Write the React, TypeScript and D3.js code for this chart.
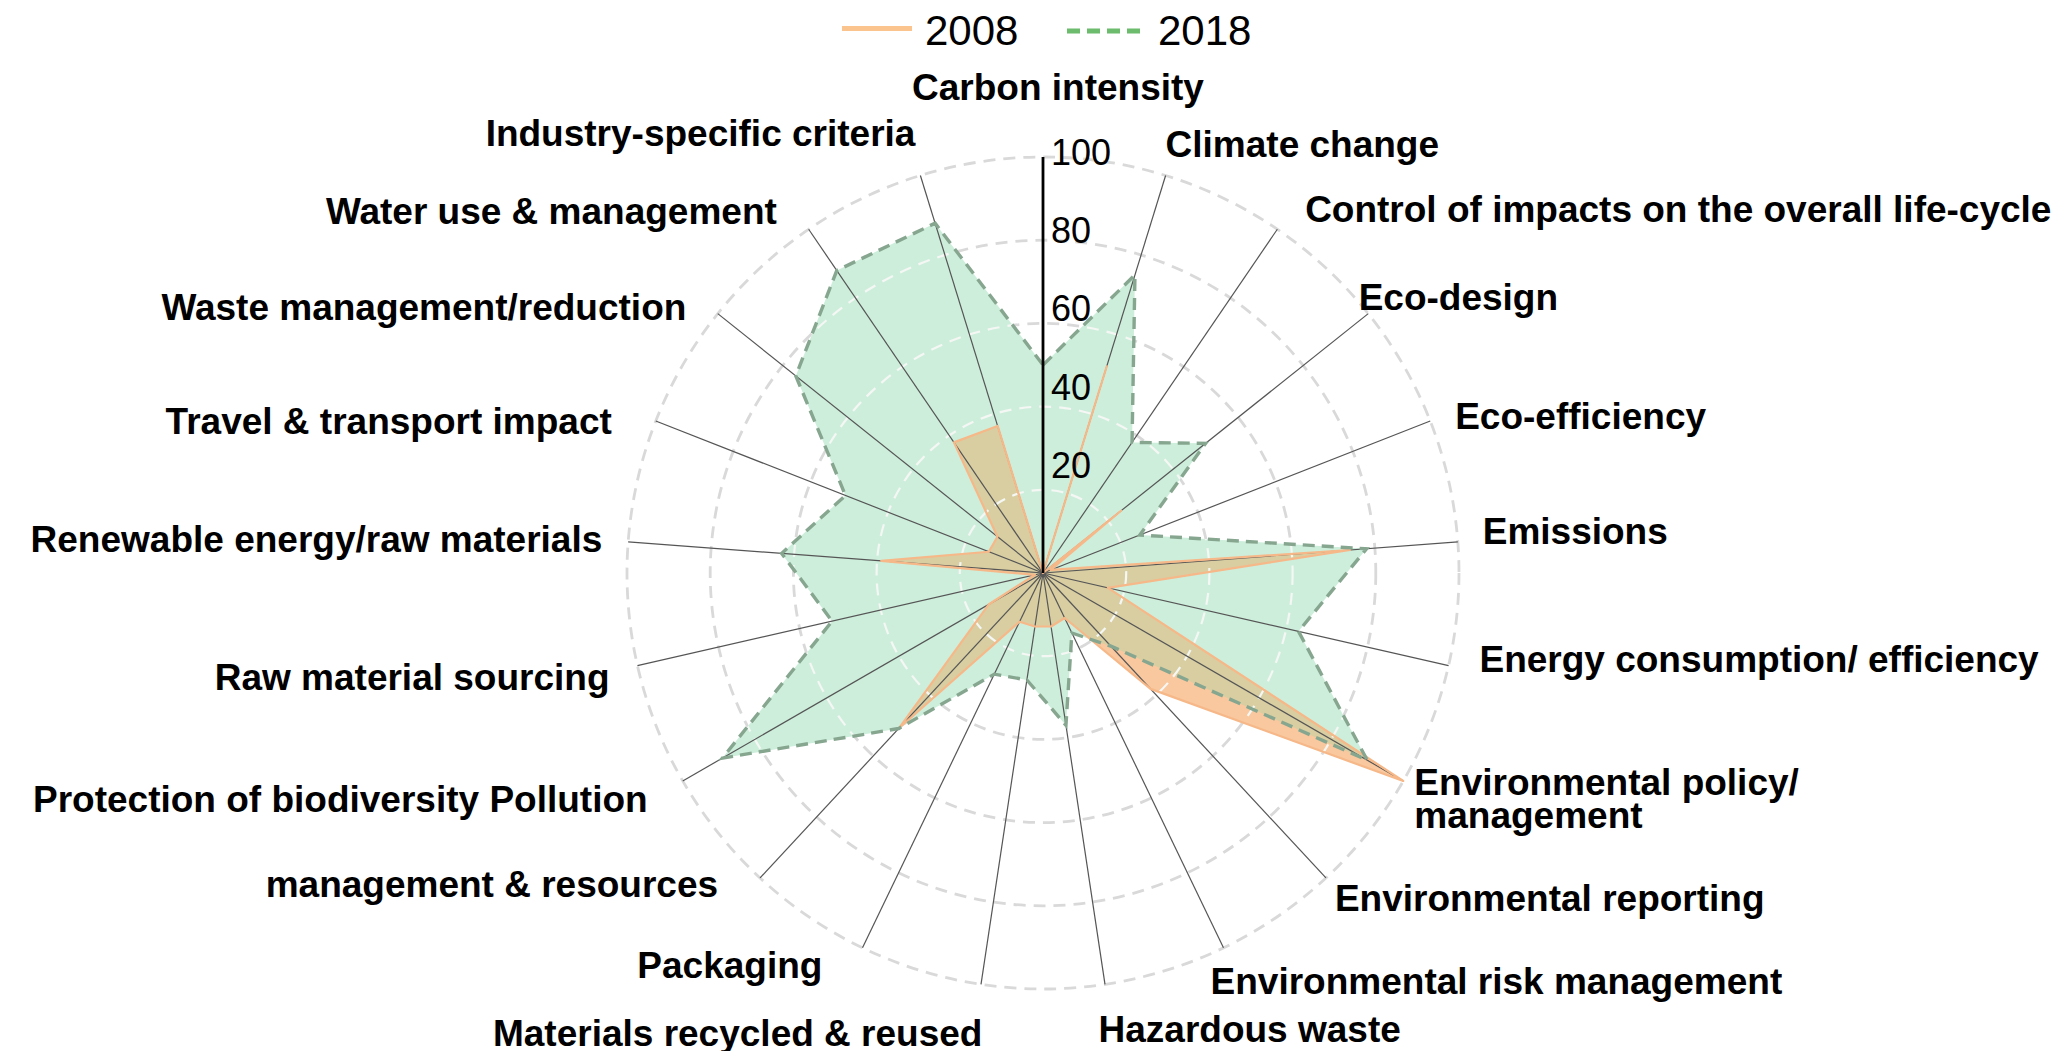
import React from 'react';
import * as d3 from 'd3';

const categories = [
  'Carbon intensity',
  'Climate change',
  'Control of impacts on the overall life-cycle',
  'Eco-design',
  'Eco-efficiency',
  'Emissions',
  'Energy consumption/ efficiency',
  'Environmental policy/ management',
  'Environmental reporting',
  'Environmental risk management',
  'Hazardous waste',
  'Materials recycled & reused',
  'Packaging',
  'Pollution management & resources',
  'Protection of biodiversity',
  'Raw material sourcing',
  'Renewable energy/raw materials',
  'Travel & transport impact',
  'Waste management/reduction',
  'Water use & management',
  'Industry-specific criteria',
];

// Label text as printed in the reference (line breaks as shown)
const labelLines: string[][] = [
  ['Carbon intensity'],
  ['Climate change'],
  ['Control of impacts on the overall life-cycle'],
  ['Eco-design'],
  ['Eco-efficiency'],
  ['Emissions'],
  ['Energy consumption/ efficiency'],
  ['Environmental policy/', 'management'],
  ['Environmental reporting'],
  ['Environmental risk management'],
  ['Hazardous waste'],
  ['Materials recycled & reused'],
  ['Packaging'],
  ['management & resources'],
  ['Protection of biodiversity Pollution'],
  ['Raw material sourcing'],
  ['Renewable energy/raw materials'],
  ['Travel & transport impact'],
  ['Waste management/reduction'],
  ['Water use & management'],
  ['Industry-specific criteria'],
];

const values2008 = [0, 52, 0, 24, 2, 74, 16, 100, 38, 12, 13, 13, 13, 51, 15, 2, 39, 14, 14, 38, 37];
const values2018 = [50, 75, 38, 50, 25, 78, 63, 90, 24, 16, 37, 26, 27, 51, 89, 52, 63, 51, 76, 88, 88];

const radialTicks = [20, 40, 60, 80, 100];
const seriesNames = ['2008', '2018'];

// layout nudges for the category labels (dx, dy in px)
const labelNudge: [number, number][] = [
  [15, -13], [-13, 24], [3, 29], [-44, 24], [-16, 24], [-19, 5], [-12, -3],
  [-27, -8], [-21, 1], [-32, 7], [-13, 14], [8, 18], [-21, -9], [-12, -13],
  [3, 9], [15, 15], [18, 13], [-3, 29], [3, 34], [-7, 31], [8, 13],
];

const FONT = '"Liberation Sans", Arial, Helvetica, sans-serif';

export default function App() {
  const W = 2061;
  const H = 1051;
  const cx = 1043;
  const cy = 573;
  const R = 416;
  const n = categories.length;

  const r = d3.scaleLinear().domain([0, 100]).range([0, R]);
  const tickLabelR = d3.scaleLinear().domain([0, 100]).range([30, 421]);
  const angle = d3.scaleLinear().domain([0, n]).range([0, 2 * Math.PI]);

  const radial = d3
    .lineRadial<number>()
    .angle((_d, i) => angle(i))
    .radius((d) => r(d))
    .curve(d3.curveLinearClosed);

  const path2008 = radial(values2008) || '';
  const path2018 = radial(values2018) || '';

  const gridCircles = (stroke: string, width: number, key: string) =>
    radialTicks.map((t) => (
      <circle
        key={key + t}
        r={r(t)}
        fill="none"
        stroke={stroke}
        strokeWidth={width}
        strokeDasharray="12 8"
      />
    ));

  const labelR = 460;

  return (
    <svg
      width={W}
      height={H}
      style={{ position: 'absolute', left: 0, top: 0, background: '#fff' }}
      fontFamily={FONT}
    >
      <defs>
        <clipPath id="clip2018">
          <path d={path2018} />
        </clipPath>
        <clipPath id="clipUnion">
          <path d={path2018} />
          <path d={path2008} />
        </clipPath>
      </defs>
      <g transform={`translate(${cx},${cy})`}>
        {gridCircles('#d9d9d9', 2.8, 'g')}
        <path d={path2018} fill="#cdeedb" />
        <path d={path2008} fill="#f9c89e" />
        <path d={path2008} fill="#d8cea2" clipPath="url(#clip2018)" />
        <g clipPath="url(#clipUnion)">{gridCircles('#f4f7f4', 2.2, 'w')}</g>
        {categories.map((c, i) => {
          const a = angle(i);
          if (i === 0) return null;
          return (
            <line
              key={c}
              x1={0}
              y1={0}
              x2={Math.sin(a) * r(100)}
              y2={-Math.cos(a) * r(100)}
              stroke="#555"
              strokeWidth={1.2}
            />
          );
        })}
        <path d={path2008} fill="none" stroke="#f6b888" strokeWidth={2.2} strokeLinejoin="round" />
        <path
          d={path2018}
          fill="none"
          stroke="#87a690"
          strokeWidth={3.4}
          strokeDasharray="12 7"
        />
        <line x1={0} y1={0} x2={0} y2={-r(100)} stroke="#000" strokeWidth={2.8} />
        {radialTicks.map((t) => (
          <text
            key={'t' + t}
            x={8}
            y={-tickLabelR(t) + 13}
            fontSize={36}
            fill="#000"
          >
            {t}
          </text>
        ))}
      </g>
      {labelLines.map((lines, i) => {
        const a = angle(i);
        const sx = Math.sin(a);
        const px = cx + sx * labelR + labelNudge[i][0];
        const py = cy - Math.cos(a) * labelR + labelNudge[i][1];
        const anchor = i === 0 ? 'middle' : sx > 0 ? 'start' : 'end';
        return (
          <text
            key={'l' + i}
            x={px}
            y={py}
            fontSize={37}
            fontWeight="bold"
            textAnchor={anchor}
            fill="#000"
          >
            {lines.map((ln, j) => (
              <tspan key={j} x={px} dy={j === 0 ? 0 : 33}>
                {ln}
              </tspan>
            ))}
          </text>
        );
      })}
      <g>
        <line x1={842} y1={28.5} x2={912} y2={28.5} stroke="#fbc48e" strokeWidth={5} />
        <text x={925} y={45} fontSize={42} fill="#000">
          {seriesNames[0]}
        </text>
        <line
          x1={1067}
          y1={31}
          x2={1140}
          y2={31}
          stroke="#6dbb6d"
          strokeWidth={5}
          strokeDasharray="13 7"
        />
        <text x={1158} y={45} fontSize={42} fill="#000">
          {seriesNames[1]}
        </text>
      </g>
    </svg>
  );
}
